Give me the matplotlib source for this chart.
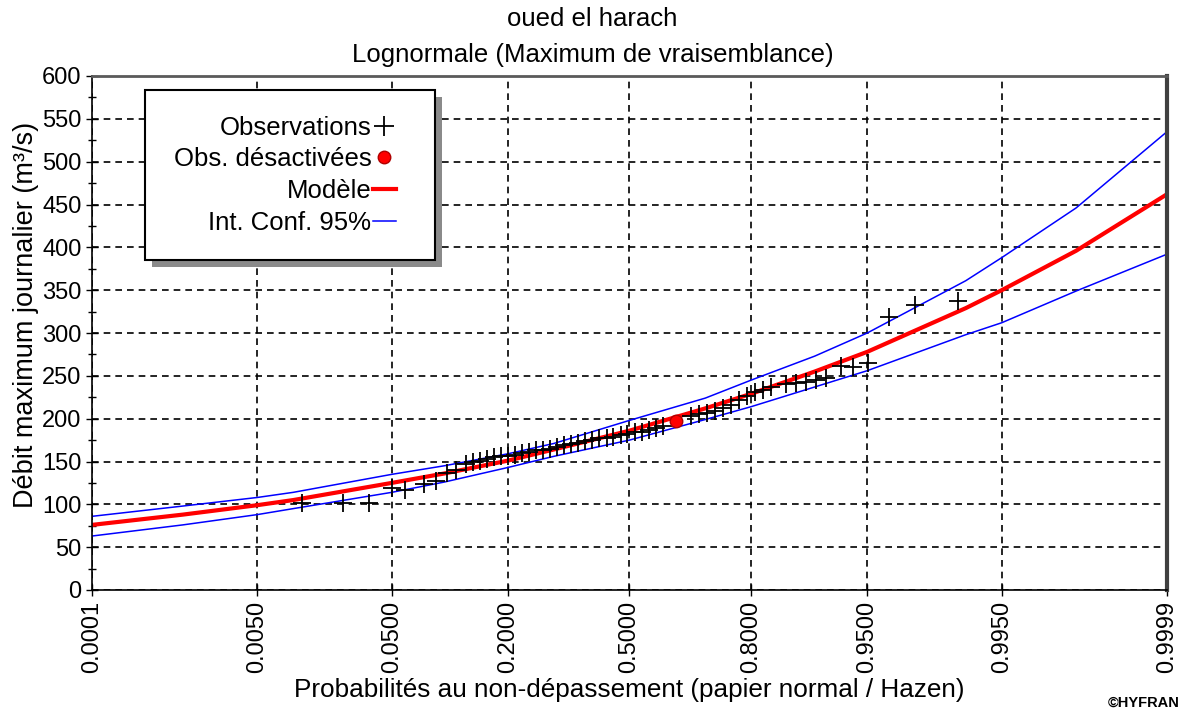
import numpy as np
import matplotlib
matplotlib.use('Agg')
import matplotlib.pyplot as plt
from matplotlib.lines import Line2D
from matplotlib.patches import Rectangle
from matplotlib.ticker import MultipleLocator
from matplotlib.transforms import IdentityTransform
from statistics import NormalDist

plt.rcParams['font.family'] = ['Liberation Sans', 'DejaVu Sans']

# ----------------------------------------------------------------------------
# Data
# ----------------------------------------------------------------------------
# observations: non-exceedance probability (Hazen) and flow (m3/s)
obs_prob = [0.0117, 0.0237, 0.0358, 0.0503, 0.0603, 0.0777, 0.0906, 0.1036,
            0.1153, 0.1293, 0.1398, 0.1508, 0.1626, 0.1747, 0.1875, 0.2008,
            0.2148, 0.2291, 0.2442, 0.2597, 0.2756, 0.2921, 0.3089, 0.3264,
            0.3438, 0.3620, 0.3802, 0.3989, 0.4176, 0.4368, 0.4558, 0.4753,
            0.4944, 0.5140, 0.5331, 0.5525, 0.5714, 0.5906, 0.6638, 0.6837,
            0.7033, 0.7221, 0.7405, 0.7580, 0.7750, 0.7913, 0.8068, 0.8217,
            0.8357, 0.8602, 0.8750, 0.8888, 0.9013, 0.9128, 0.9282, 0.9388,
            0.9504, 0.9637, 0.9759, 0.9885]
obs_q = [102, 102, 102, 119, 117, 124, 127, 136, 140, 147, 150, 151, 153, 155,
         156, 157, 158, 160, 161, 163, 164, 165, 167, 169, 171, 172, 174, 175,
         177, 178, 179, 181, 182, 184, 185, 187, 189, 191, 203, 205, 207, 209,
         212, 216, 222, 227, 231, 234, 237, 240, 242, 243, 245, 248, 262, 260,
         265, 319, 333, 337]

# deactivated observation
off_prob = [0.6251]
off_q = [197]

# fitted lognormal model and 95% confidence interval
model_prob = [0.0001, 0.001, 0.005, 0.01, 0.05, 0.1, 0.2, 0.3, 0.5, 0.7,
              0.8, 0.9, 0.95, 0.99, 0.995, 0.999, 0.9999]
model_q = [76, 88, 99, 105, 125, 136, 151, 164, 186, 212, 229, 255, 278, 329,
           350, 396, 462]
ic_upper = [86, 98, 108, 114, 135, 145, 159, 171, 198, 224, 245, 273, 300, 361,
            388, 446, 535]
ic_lower = [63, 76, 88, 95, 114, 126, 143, 156, 175, 199, 214, 237, 256, 298,
            312, 349, 392]

xtick_prob = [0.0001, 0.005, 0.05, 0.2, 0.5, 0.8, 0.95, 0.995, 0.9999]
xtick_labels = ['0.0001', '0.0050', '0.0500', '0.2000', '0.5000', '0.8000',
                '0.9500', '0.9950', '0.9999']

# ----------------------------------------------------------------------------
# Normal probability paper scale
# ----------------------------------------------------------------------------
nd = NormalDist()


def probit(p):
    p = np.clip(np.asarray(p, dtype=float), 1e-9, 1 - 1e-9)
    return np.vectorize(nd.inv_cdf, otypes=[float])(p)


def inv_probit(z):
    return np.vectorize(nd.cdf, otypes=[float])(np.asarray(z, dtype=float))


W, H = 1185, 711
fig = plt.figure(figsize=(W / 100, H / 100), dpi=100)
ax = fig.add_axes([92 / W, 1 - 590 / H, 1075 / W, 514 / H])
ax.set_xscale('function', functions=(probit, inv_probit))

ax.plot(model_prob, ic_upper, color='#0000ff', lw=1.1, zorder=2)
ax.plot(model_prob, ic_lower, color='#0000ff', lw=1.1, zorder=2)
ax.plot(model_prob, model_q, color='#ff0000', lw=3.0, zorder=2.2)
ax.plot(obs_prob, obs_q, ls='none', marker='+', ms=13, mew=1.3,
        color='black', zorder=2.5)
ax.plot(off_prob, off_q, ls='none', marker='o', ms=9, mfc='#ff0000',
        mec='#b00000', zorder=2.6)

ax.set_xlim(0.0001, 0.9999)
ax.set_ylim(0, 600)
ax.set_xticks(xtick_prob)
ax.set_xticklabels(xtick_labels, rotation=90)
ax.yaxis.set_major_locator(MultipleLocator(50))
ax.yaxis.set_minor_locator(MultipleLocator(25))
ax.xaxis.set_minor_locator(plt.NullLocator())

ax.grid(True, which='major', color='black', ls=(0, (4, 3)), lw=1.2)
ax.tick_params(which='major', direction='inout', length=9, width=1,
               labelsize=17, pad=3)
ax.tick_params(which='minor', direction='inout', length=6, width=1)

for s in ['left', 'bottom']:
    ax.spines[s].set_color('black')
    ax.spines[s].set_linewidth(1.2)
ax.spines['top'].set_color('#5a5a5a')
ax.spines['top'].set_linewidth(2)
ax.spines['right'].set_color('#404040')
ax.spines['right'].set_linewidth(3)

# titles and labels
fig.text(0.5, 1 - 19 / H, 'oued el harach', ha='center', va='center',
         fontsize=18.5)
fig.text(0.5, 1 - 55 / H, 'Lognormale (Maximum de vraisemblance)',
         ha='center', va='center', fontsize=18.5)
fig.text(629 / W, 1 - 690 / H,
         'Probabilités au non-dépassement (papier normal / Hazen)',
         ha='center', va='center', fontsize=18.8)
fig.text(26 / W, 1 - 315 / H, 'Débit maximum journalier (m³/s)',
         ha='center', va='center', rotation=90, fontsize=19.5)
fig.text(1180 / W, 1 - 703 / H, '©HYFRAN', ha='right', va='center',
         fontsize=10.5, fontweight='bold')

# legend (entries right-aligned, symbol after the text)
handles = [
    Line2D([], [], ls='none', marker='+', ms=14, mew=1.3, color='black'),
    Line2D([], [], ls='none', marker='o', ms=9, mfc='#ff0000', mec='#b00000'),
    Line2D([], [], color='#ff0000', lw=3),
    Line2D([], [], color='#0000ff', lw=1.1),
]
labels = ['Observations', 'Obs. désactivées', 'Modèle', 'Int. Conf. 95%']
leg = ax.legend(handles, labels, loc='upper left',
                bbox_to_anchor=(0.052, 0.973), borderaxespad=0,
                markerfirst=False, frameon=False, fontsize=18.5,
                borderpad=1.0, labelspacing=0.3, handlelength=0.9,
                handletextpad=0.05)

# box and offset shadow drawn by hand (wider on the right like HYFRAN)
fig.canvas.draw()
bb = leg.get_window_extent()
x0, y0 = bb.x0 - 3, bb.y0
bw, bh = bb.width + 17, bb.height
shadow = Rectangle((x0 + 7, y0 - 7), bw, bh, transform=IdentityTransform(),
                   facecolor='#8a8a8a', edgecolor='none', zorder=4.8)
frame = Rectangle((x0, y0), bw, bh, transform=IdentityTransform(),
                  facecolor='white', edgecolor='black', lw=1.5, zorder=4.9)
ax.add_artist(shadow)
ax.add_artist(frame)

fig.savefig('out.png', dpi=100)
